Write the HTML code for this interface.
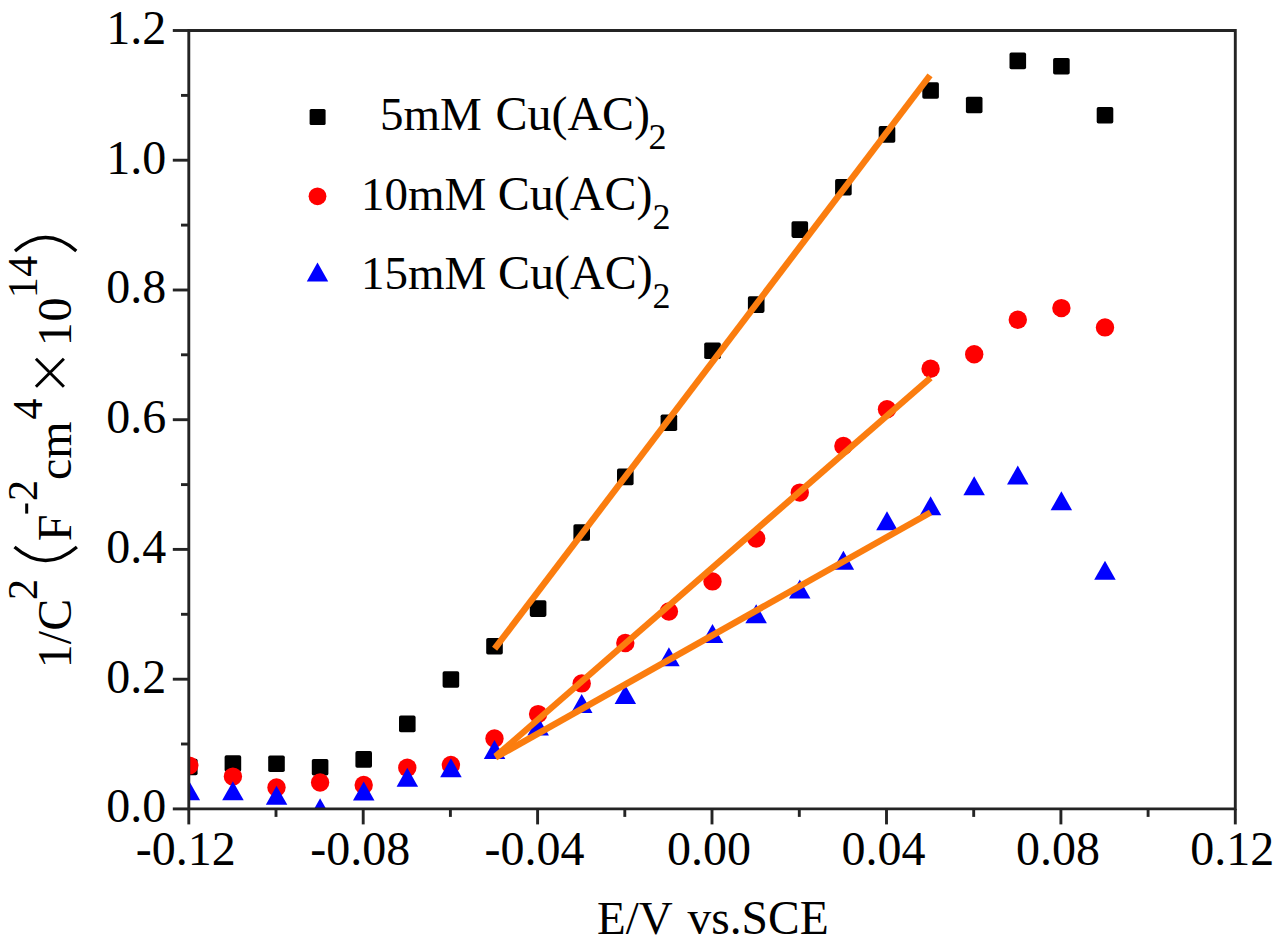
<!DOCTYPE html><html><head><meta charset="utf-8"><style>html,body{margin:0;padding:0;background:#fff;width:1280px;height:944px;overflow:hidden}svg{display:block;font-family:"Liberation Serif",serif}</style></head><body>
<svg width="1280" height="944" viewBox="0 0 1280 944">
<rect width="1280" height="944" fill="#fff"/>
<defs><clipPath id="pc"><rect x="188.8" y="30.5" width="1046.5" height="778.4"/></clipPath></defs>
<g clip-path="url(#pc)">
<g fill="#000">
<rect x="181.0" y="758.7" width="16.6" height="16.6" rx="1.8"/>
<rect x="224.6" y="755.2" width="16.6" height="16.6" rx="1.8"/>
<rect x="268.2" y="755.4" width="16.6" height="16.6" rx="1.8"/>
<rect x="311.8" y="758.9" width="16.6" height="16.6" rx="1.8"/>
<rect x="355.4" y="751.1" width="16.6" height="16.6" rx="1.8"/>
<rect x="399.0" y="715.6" width="16.6" height="16.6" rx="1.8"/>
<rect x="442.6" y="671.2" width="16.6" height="16.6" rx="1.8"/>
<rect x="486.2" y="637.9" width="16.6" height="16.6" rx="1.8"/>
<rect x="529.8" y="600.3" width="16.6" height="16.6" rx="1.8"/>
<rect x="573.4" y="524.2" width="16.6" height="16.6" rx="1.8"/>
<rect x="617.0" y="468.6" width="16.6" height="16.6" rx="1.8"/>
<rect x="660.6" y="414.5" width="16.6" height="16.6" rx="1.8"/>
<rect x="704.2" y="342.4" width="16.6" height="16.6" rx="1.8"/>
<rect x="747.9" y="296.3" width="16.6" height="16.6" rx="1.8"/>
<rect x="791.5" y="221.3" width="16.6" height="16.6" rx="1.8"/>
<rect x="835.1" y="179.0" width="16.6" height="16.6" rx="1.8"/>
<rect x="878.7" y="126.1" width="16.6" height="16.6" rx="1.8"/>
<rect x="922.3" y="82.2" width="16.6" height="16.6" rx="1.8"/>
<rect x="965.9" y="96.7" width="16.6" height="16.6" rx="1.8"/>
<rect x="1009.5" y="52.6" width="16.6" height="16.6" rx="1.8"/>
<rect x="1053.1" y="58.0" width="16.6" height="16.6" rx="1.8"/>
<rect x="1096.7" y="107.0" width="16.6" height="16.6" rx="1.8"/>
</g><g fill="#f00">
<circle cx="189.3" cy="765.6" r="9.2"/>
<circle cx="232.9" cy="776.6" r="9.2"/>
<circle cx="276.5" cy="787.5" r="9.2"/>
<circle cx="320.1" cy="782.5" r="9.2"/>
<circle cx="363.7" cy="785.0" r="9.2"/>
<circle cx="407.3" cy="767.7" r="9.2"/>
<circle cx="450.9" cy="764.9" r="9.2"/>
<circle cx="494.5" cy="738.4" r="9.2"/>
<circle cx="538.1" cy="714.1" r="9.2"/>
<circle cx="581.7" cy="683.4" r="9.2"/>
<circle cx="625.3" cy="643.0" r="9.2"/>
<circle cx="668.9" cy="611.5" r="9.2"/>
<circle cx="712.5" cy="581.4" r="9.2"/>
<circle cx="756.2" cy="538.5" r="9.2"/>
<circle cx="799.8" cy="492.6" r="9.2"/>
<circle cx="843.4" cy="446.0" r="9.2"/>
<circle cx="887.0" cy="409.3" r="9.2"/>
<circle cx="930.6" cy="368.8" r="9.2"/>
<circle cx="974.2" cy="354.3" r="9.2"/>
<circle cx="1017.8" cy="319.7" r="9.2"/>
<circle cx="1061.4" cy="308.1" r="9.2"/>
<circle cx="1105.0" cy="327.4" r="9.2"/>
</g><g fill="#00f">
<path d="M178.6 800.3L200.1 800.3L189.3 781.3Z"/>
<path d="M222.2 800.3L243.7 800.3L232.9 781.3Z"/>
<path d="M265.8 804.7L287.3 804.7L276.5 785.7Z"/>
<path d="M309.4 817.3L330.9 817.3L320.1 798.3Z"/>
<path d="M353.0 800.5L374.5 800.5L363.7 781.5Z"/>
<path d="M396.6 786.7L418.1 786.7L407.3 767.7Z"/>
<path d="M440.2 777.2L461.7 777.2L450.9 758.2Z"/>
<path d="M483.8 759.0L505.3 759.0L494.5 740.0Z"/>
<path d="M527.4 735.6L548.9 735.6L538.1 716.6Z"/>
<path d="M571.0 712.9L592.5 712.9L581.7 693.9Z"/>
<path d="M614.6 704.1L636.1 704.1L625.3 685.1Z"/>
<path d="M658.2 666.2L679.7 666.2L668.9 647.2Z"/>
<path d="M701.8 642.9L723.3 642.9L712.5 623.9Z"/>
<path d="M745.4 623.2L766.9 623.2L756.2 604.2Z"/>
<path d="M789.0 598.4L810.5 598.4L799.8 579.4Z"/>
<path d="M832.6 569.8L854.1 569.8L843.4 550.8Z"/>
<path d="M876.2 530.3L897.7 530.3L887.0 511.3Z"/>
<path d="M919.8 515.3L941.3 515.3L930.6 496.3Z"/>
<path d="M963.4 495.3L984.9 495.3L974.2 476.3Z"/>
<path d="M1007.0 484.6L1028.5 484.6L1017.8 465.6Z"/>
<path d="M1050.6 510.3L1072.1 510.3L1061.4 491.3Z"/>
<path d="M1094.2 579.7L1115.7 579.7L1105.0 560.7Z"/>
</g>
<g stroke="#fb7d0f" stroke-width="6.4" fill="none">
<path d="M494.6 648.8L930 75.4"/>
<path d="M495.5 756.5L930.5 377.8"/>
<path d="M495.5 757.5L930.5 512.5"/>
</g>
</g>
<g stroke="#242424" stroke-width="2.9" fill="none">
<path d="M188.8 30.5H1235.3V808.9H188.8Z"/>
<path d="M172.8 808.9H188.8"/>
<path d="M181.0 744.0H188.8"/>
<path d="M172.8 679.2H188.8"/>
<path d="M181.0 614.3H188.8"/>
<path d="M172.8 549.4H188.8"/>
<path d="M181.0 484.6H188.8"/>
<path d="M172.8 419.7H188.8"/>
<path d="M181.0 354.8H188.8"/>
<path d="M172.8 290.0H188.8"/>
<path d="M181.0 225.1H188.8"/>
<path d="M172.8 160.2H188.8"/>
<path d="M181.0 95.4H188.8"/>
<path d="M172.8 30.5H188.8"/>
<path d="M188.8 808.9V824.4"/>
<path d="M276.0 808.9V816.9"/>
<path d="M363.2 808.9V824.4"/>
<path d="M450.4 808.9V816.9"/>
<path d="M537.6 808.9V824.4"/>
<path d="M624.8 808.9V816.9"/>
<path d="M712.0 808.9V824.4"/>
<path d="M799.3 808.9V816.9"/>
<path d="M886.5 808.9V824.4"/>
<path d="M973.7 808.9V816.9"/>
<path d="M1060.9 808.9V824.4"/>
<path d="M1148.1 808.9V816.9"/>
<path d="M1235.3 808.9V824.4"/>
</g>
<g font-size="48" fill="#000">
<text x="166.3" y="822.2" text-anchor="end">0.0</text>
<text x="166.3" y="692.5" text-anchor="end">0.2</text>
<text x="166.3" y="562.7" text-anchor="end">0.4</text>
<text x="166.3" y="433.0" text-anchor="end">0.6</text>
<text x="166.3" y="303.3" text-anchor="end">0.8</text>
<text x="166.3" y="173.5" text-anchor="end">1.0</text>
<text x="166.3" y="43.8" text-anchor="end">1.2</text>
<text x="185.8" y="865" text-anchor="middle">-0.12</text>
<text x="360.2" y="865" text-anchor="middle">-0.08</text>
<text x="534.6" y="865" text-anchor="middle">-0.04</text>
<text x="709.0" y="865" text-anchor="middle">0.00</text>
<text x="883.5" y="865" text-anchor="middle">0.04</text>
<text x="1057.9" y="865" text-anchor="middle">0.08</text>
<text x="1232.3" y="865" text-anchor="middle">0.12</text>
<text x="597" y="934" font-size="47">E/V</text>
<text x="687.5" y="934" font-size="47.5">vs.SCE</text>
</g>
<rect x="309.6" y="109.0" width="16" height="16" rx="1.6" fill="#000"/>
<circle cx="317.5" cy="196.3" r="8.9" fill="#f00"/>
<path d="M306.8 281.6L328.2 281.6L317.5 262.6Z" fill="#00f"/>
<g fill="#000">
<text x="380.0" y="130.0" font-size="47">5mM</text>
<text x="495.4" y="130.0" font-size="48">Cu(AC)</text>
<text x="648.6" y="148.9" font-size="36">2</text>
<text x="361.0" y="209.5" font-size="47">10mM</text>
<text x="497.8" y="209.5" font-size="48">Cu(AC)</text>
<text x="652.4" y="228.9" font-size="36">2</text>
<text x="361.0" y="288.8" font-size="47">15mM</text>
<text x="498.0" y="288.8" font-size="48">Cu(AC)</text>
<text x="652.4" y="307.5" font-size="36">2</text>
</g>
<g transform="translate(71.4 680) rotate(-90)" fill="#000">
<text x="11.8" y="0" font-size="48">1/C</text>
<text x="79.9" y="-34.6" font-size="42">2</text>
<text x="138.7" y="0" font-size="48">F</text>
<rect x="166.4" y="-46.2" width="10.1" height="3" />
<text x="179" y="-34.5" font-size="42">2</text>
<text x="199.9" y="0" font-size="48">cm</text>
<text x="260.4" y="-29.5" font-size="42">4</text>
<g stroke="#000" stroke-width="3"><path d="M293.3 -35.5L321.3 -7.5M293.3 -7.5L321.3 -35.5"/></g>
<text x="333.8" y="0" font-size="48">1</text>
<text x="358.4" y="0" font-size="48">0</text>
<text x="381.7" y="-34.9" font-size="42">1</text>
<text x="403.3" y="-34.9" font-size="42">4</text>
</g>
<g stroke="#000" stroke-width="3.2" fill="none"><path d="M14.5 547Q45.6 574 76.9 547"/><path d="M15 251Q45.6 224 76.3 251"/></g>
</svg></body></html>
